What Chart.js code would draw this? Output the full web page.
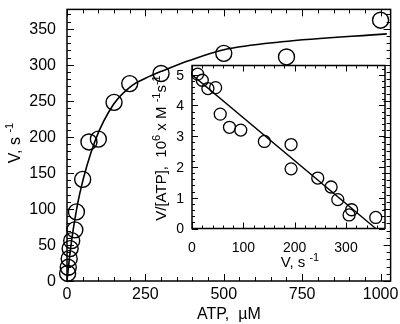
<!DOCTYPE html>
<html>
<head>
<meta charset="utf-8">
<script src="https://cdn.jsdelivr.net/npm/chart.js@4.4.1/dist/chart.umd.min.js"></script>
<style>
  html, body { margin: 0; padding: 0; background: #fff; }
  #wrap { position: relative; width: 400px; height: 324px; }
  #main { position: absolute; left: 0; top: 0; }
  #inset { position: absolute; left: 140px; top: 55px; }
</style>
</head>
<body>
<div id="wrap">
  <canvas id="main" width="400" height="324"></canvas>
  <canvas id="inset" width="255" height="220"></canvas>
</div>
<script>
// Dados do gráfico principal: velocidade V (s-1) em função de [ATP] (uM)
const atpUM = [2, 4, 7, 10, 15, 25, 30, 50, 70, 100, 150, 200, 300, 500, 700, 1000];
const velocity = [10.5, 19, 31, 45, 56, 71, 96, 141, 193, 197, 248, 274, 288, 316, 311, 362];

// Curva ajustada, lida ponto a ponto da figura
const curveX = [0, 10, 20, 41, 90, 148, 206, 263, 301, 390, 500, 685, 1020];
const curveY = [0, 40, 72, 122, 195, 245, 271, 284, 291, 306, 321, 332, 343];

// Dados do gráfico interno (Eadie-Hofstee): V/[ATP] (10^6 M-1 s-1) em função de V
const insetV = [11, 20, 31, 46, 55, 73, 95, 141, 193, 193, 245, 271, 284, 311, 306, 358];
const insetRatio = [5.02, 4.82, 4.55, 4.58, 3.72, 3.29, 3.2, 2.83, 2.73, 1.94, 1.64, 1.35, 0.94, 0.61, 0.44, 0.36];

// Reta ajustada do gráfico interno
const insetLineX = [0, 358];
const insetLineY = [5.0, 0];

// Rótulos dos eixos
const mainXTicks = [0, 250, 500, 750, 1000];
const mainYTicks = [0, 50, 100, 150, 200, 250, 300, 350];
const insetXTicks = [0, 100, 200, 300];
const insetYTicks = [0, 1, 2, 3, 4, 5];

const FONT = '"Liberation Sans", Arial, Helvetica, sans-serif';

function toPoints(xs, ys) {
  return xs.map((v, i) => ({ x: v, y: ys[i] }));
}

// Desenha texto com partes sobrescritas
function drawRich(ctx, parts, x, y, align, size) {
  const supSize = Math.round(size * 0.7);
  let total = 0;
  parts.forEach((p) => {
    ctx.font = `${p.sup ? supSize : size}px ${FONT}`;
    p.w = ctx.measureText(p.t).width;
    total += p.w;
  });
  let cx = x;
  if (align === "center") cx = x - total / 2;
  if (align === "right") cx = x - total;
  ctx.textAlign = "left";
  ctx.textBaseline = "alphabetic";
  parts.forEach((p) => {
    ctx.font = `${p.sup ? supSize : size}px ${FONT}`;
    ctx.fillText(p.t, cx, p.sup ? y - size * 0.42 : y);
    cx += p.w;
  });
}

// Moldura com marcas de escala voltadas para dentro nos quatro lados
function drawFrame(chart, o) {
  const { ctx, chartArea: a } = chart;
  const sx = chart.scales.x;
  const sy = chart.scales.y;
  ctx.save();
  ctx.strokeStyle = "#000";
  ctx.lineWidth = o.lineWidth;
  ctx.strokeRect(a.left, a.top, a.right - a.left, a.bottom - a.top);

  ctx.lineWidth = 1;
  ctx.beginPath();
  const nx = Math.round(sx.max / o.xMinor);
  for (let i = 0; i <= nx; i++) {
    const v = i * o.xMinor;
    if (v > sx.max) break;
    const px = Math.round(sx.getPixelForValue(v)) + 0.5;
    const len = i % o.xEvery === 0 ? o.major : o.minor;
    ctx.moveTo(px, a.bottom);
    ctx.lineTo(px, a.bottom - len);
    ctx.moveTo(px, a.top);
    ctx.lineTo(px, a.top + len);
  }
  const ny = Math.round(sy.max / o.yMinor);
  for (let i = 0; i <= ny; i++) {
    const v = i * o.yMinor;
    if (v > sy.max + 1e-9) break;
    const py = Math.round(sy.getPixelForValue(v)) + 0.5;
    const len = i % o.yEvery === 0 ? o.major : o.minor;
    ctx.moveTo(a.left, py);
    ctx.lineTo(a.left + len, py);
    ctx.moveTo(a.right, py);
    ctx.lineTo(a.right - len, py);
  }
  ctx.stroke();

  // rótulos numéricos
  ctx.fillStyle = "#000";
  ctx.font = `${o.tickSize}px ${FONT}`;
  ctx.textAlign = "center";
  ctx.textBaseline = "alphabetic";
  o.xTicks.forEach((v) => {
    ctx.fillText(String(v), sx.getPixelForValue(v), o.xLabelBase);
  });
  ctx.textAlign = "right";
  ctx.textBaseline = "middle";
  o.yTicks.forEach((v) => {
    ctx.fillText(String(v), o.yLabelRight, sy.getPixelForValue(v) + 1);
  });

  // títulos
  ctx.textBaseline = "alphabetic";
  drawRich(ctx, o.xTitle, o.xTitleX, o.xTitleY, o.xTitleAlign, o.titleSize);
  ctx.save();
  ctx.translate(o.yTitleX, o.yTitleY);
  ctx.rotate(-Math.PI / 2);
  drawRich(ctx, o.yTitle, 0, 0, "center", o.titleSize);
  ctx.restore();
  ctx.restore();
}

const framePlugin = {
  id: "frame",
  afterDatasetsDraw(chart, args, opts) {
    drawFrame(chart, opts);
  },
};

const mainChart = new Chart(document.getElementById("main"), {
  type: "scatter",
  plugins: [framePlugin],
  data: {
    datasets: [
      {
        data: toPoints(curveX, curveY),
        showLine: true,
        borderColor: "#000",
        borderWidth: 1.6,
        pointRadius: 0,
        cubicInterpolationMode: "monotone",
        clip: false,
      },
      {
        data: toPoints(atpUM, velocity),
        showLine: false,
        pointRadius: 8,
        pointBackgroundColor: "rgba(0,0,0,0)",
        pointBorderColor: "#000",
        pointBorderWidth: 1.4,
        clip: false,
      },
    ],
  },
  options: {
    responsive: false,
    animation: false,
    events: [],
    layout: { padding: { left: 67, right: 7, top: 1, bottom: 43 } },
    scales: {
      x: { type: "linear", min: 0, max: 1032, display: false },
      y: { type: "linear", min: 0, max: 377, display: false },
    },
    plugins: {
      legend: { display: false },
      tooltip: { enabled: false },
      frame: {
        lineWidth: 1.5,
        major: 7,
        minor: 4,
        xMinor: 50,
        xEvery: 5,
        yMinor: 10,
        yEvery: 5,
        tickSize: 16,
        titleSize: 16,
        xTicks: mainXTicks,
        yTicks: mainYTicks,
        xLabelBase: 299,
        yLabelRight: 56,
        xTitle: [{ t: "ATP,  \u00B5M" }],
        xTitleX: 197,
        xTitleY: 319,
        xTitleAlign: "left",
        yTitle: [{ t: "V, s " }, { t: "-1", sup: true }],
        yTitleX: 20,
        yTitleY: 143,
      },
    },
  },
});

const insetChart = new Chart(document.getElementById("inset"), {
  type: "scatter",
  plugins: [framePlugin],
  data: {
    datasets: [
      {
        data: toPoints(insetLineX, insetLineY),
        showLine: true,
        borderColor: "#000",
        borderWidth: 1.4,
        pointRadius: 0,
      },
      {
        data: toPoints(insetV, insetRatio),
        showLine: false,
        pointRadius: 6,
        pointBackgroundColor: "rgba(0,0,0,0)",
        pointBorderColor: "#000",
        pointBorderWidth: 1.3,
        clip: false,
      },
    ],
  },
  options: {
    responsive: false,
    animation: false,
    events: [],
    layout: { padding: { left: 52, right: 10, top: 10.5, bottom: 46.5 } },
    scales: {
      x: { type: "linear", min: 0, max: 376, display: false },
      y: { type: "linear", min: 0, max: 5.3, display: false },
    },
    plugins: {
      legend: { display: false },
      tooltip: { enabled: false },
      frame: {
        lineWidth: 1.5,
        major: 6,
        minor: 3,
        xMinor: 20,
        xEvery: 5,
        yMinor: 0.2,
        yEvery: 5,
        tickSize: 14,
        titleSize: 15,
        xTicks: insetXTicks,
        yTicks: insetYTicks,
        xLabelBase: 197,
        yLabelRight: 44,
        xTitle: [{ t: "V, s " }, { t: "-1", sup: true }],
        xTitleX: 160,
        xTitleY: 212,
        xTitleAlign: "center",
        yTitle: [
          { t: "V/[ATP],  10" },
          { t: "6", sup: true },
          { t: " x M " },
          { t: "-1", sup: true },
          { t: "s" },
          { t: "-1", sup: true },
        ],
        yTitleX: 26,
        yTitleY: 93,
      },
    },
  },
});
</script>
</body>
</html>
